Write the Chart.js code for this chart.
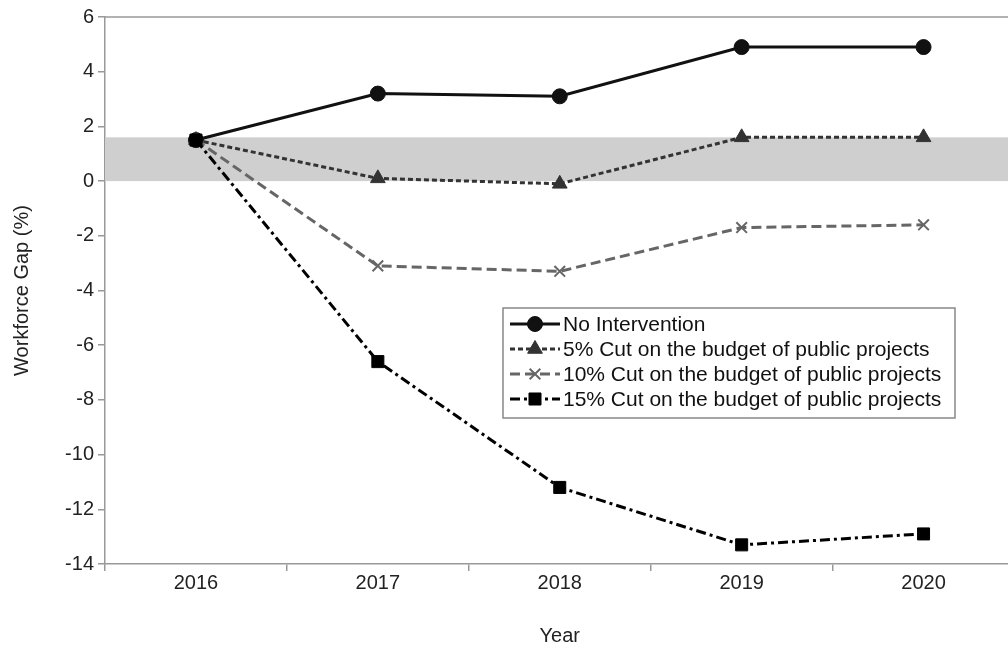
<!DOCTYPE html>
<html>
<head>
<meta charset="utf-8">
<script src="https://cdn.jsdelivr.net/npm/chart.js@4/dist/chart.umd.min.js"></script>
<style>
  html, body { margin: 0; padding: 0; background: #fff; overflow: hidden; }
</style>
</head>
<body>
<canvas id="gapChart" width="1024" height="652"></canvas>
<script>
var years = ['2016', '2017', '2018', '2019', '2020'];
var noIntervention = [1.5, 3.2, 3.1, 4.9, 4.9];
var cut5 = [1.5, 0.1, -0.1, 1.6, 1.6];
var cut10 = [1.5, -3.1, -3.3, -1.7, -1.6];
var cut15 = [1.5, -6.6, -11.2, -13.3, -12.9];
var bandLow = 0;
var bandHigh = 1.6;

var FONT = '"Liberation Sans", Arial, sans-serif';

// grey target band behind the lines
var bandPlugin = {
  id: 'band',
  beforeDatasetsDraw: function (chart) {
    var c = chart.ctx, a = chart.chartArea, y = chart.scales.y;
    var top = y.getPixelForValue(bandHigh), bot = y.getPixelForValue(bandLow);
    c.save();
    c.fillStyle = '#cfcfcf';
    c.fillRect(a.left, top, a.right - a.left, bot - top);
    c.restore();
  }
};

// top border of the plot area
var framePlugin = {
  id: 'frame',
  beforeDatasetsDraw: function (chart) {
    var c = chart.ctx, a = chart.chartArea;
    c.save();
    c.strokeStyle = '#999';
    c.lineWidth = 1.5;
    c.beginPath();
    c.moveTo(a.left, a.top);
    c.lineTo(a.right, a.top);
    c.stroke();
    c.restore();
  }
};

// boxed legend inside the plot, Excel style
var boxLegend = {
  id: 'boxLegend',
  afterDatasetsDraw: function (chart) {
    var c = chart.ctx;
    var x = 503, y = 308, w = 452, h = 110, row = 25;
    c.save();
    c.fillStyle = '#fff';
    c.fillRect(x, y, w, h);
    c.strokeStyle = '#888';
    c.lineWidth = 1.5;
    c.strokeRect(x, y, w, h);
    chart.data.datasets.forEach(function (ds, i) {
      var cy = y + 16 + i * row;
      c.strokeStyle = ds.borderColor;
      c.lineWidth = ds.borderWidth;
      c.setLineDash(ds.borderDash || []);
      c.beginPath();
      c.moveTo(x + 7, cy);
      c.lineTo(x + 57, cy);
      c.stroke();
      c.setLineDash([]);
      c.fillStyle = ds.pointBackgroundColor;
      c.strokeStyle = ds.pointBorderColor;
      c.lineWidth = ds.pointBorderWidth;
      Chart.helpers.drawPoint(c, {
        pointStyle: ds.pointStyle,
        radius: ds.pointRadius,
        rotation: 0,
        borderWidth: ds.pointBorderWidth
      }, x + 32, cy);
      c.fillStyle = '#111';
      c.font = '21px ' + FONT;
      c.textBaseline = 'middle';
      c.fillText(ds.label, x + 60, cy + 1);
    });
    c.restore();
  }
};

var ctx = document.getElementById('gapChart').getContext('2d');
var gapChart = new Chart(ctx, {
  type: 'line',
  data: {
    labels: years,
    datasets: [{
      label: 'No Intervention',
      data: noIntervention,
      order: 4,
      borderColor: '#111',
      borderWidth: 3,
      pointStyle: 'circle',
      pointRadius: 7.5,
      pointBackgroundColor: '#111',
      pointBorderColor: '#111',
      pointBorderWidth: 1
    }, {
      label: '5% Cut on the budget of public projects',
      data: cut5,
      order: 3,
      borderColor: '#333',
      borderWidth: 3,
      borderDash: [5, 3],
      pointStyle: 'triangle',
      pointRadius: 8.5,
      pointBackgroundColor: '#333',
      pointBorderColor: '#333',
      pointBorderWidth: 1
    }, {
      label: '10% Cut on the budget of public projects',
      data: cut10,
      order: 2,
      borderColor: '#666',
      borderWidth: 3,
      borderDash: [10, 5],
      pointStyle: 'crossRot',
      pointRadius: 7.5,
      pointBackgroundColor: '#666',
      pointBorderColor: '#666',
      pointBorderWidth: 2
    }, {
      label: '15% Cut on the budget of public projects',
      data: cut15,
      order: 1,
      borderColor: '#000',
      borderWidth: 3,
      borderDash: [10, 4, 3, 4],
      pointStyle: 'rect',
      pointRadius: 8.5,
      pointBackgroundColor: '#000',
      pointBorderColor: '#000',
      pointBorderWidth: 1
    }]
  },
  options: {
    responsive: false,
    animation: false,
    layout: { padding: { top: 17, left: 0, right: 0, bottom: 0 } },
    plugins: {
      legend: { display: false },
      tooltip: { enabled: false }
    },
    scales: {
      x: {
        offset: true,
        grid: { offset: true, drawOnChartArea: false, tickLength: 7, color: '#999', lineWidth: 1.5 },
        border: { color: '#999', width: 1.5 },
        ticks: { color: '#222', font: { family: FONT, size: 20 }, padding: 0 },
        title: { display: true, text: 'Year', color: '#222', font: { family: FONT, size: 20 }, padding: { top: 35 } },
        afterFit: function (s) { s.height = 88; }
      },
      y: {
        min: -14,
        max: 6,
        ticks: { stepSize: 2, color: '#222', font: { family: FONT, size: 20 }, padding: 4 },
        grid: { drawOnChartArea: false, tickLength: 7, color: '#999', lineWidth: 1.5 },
        border: { color: '#999', width: 1.5 },
        title: { display: true, text: 'Workforce Gap (%)', color: '#222', font: { family: FONT, size: 20 }, padding: { top: 10, bottom: 0 } },
        afterFit: function (s) { s.width = 105; }
      }
    }
  },
  plugins: [bandPlugin, framePlugin, boxLegend]
});
</script>
</body>
</html>
